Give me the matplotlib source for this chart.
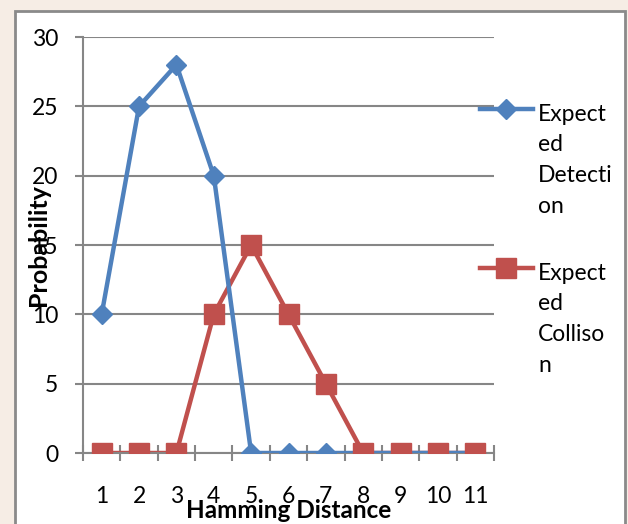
import numpy as np
import matplotlib
matplotlib.use("Agg")
import matplotlib.pyplot as plt
from matplotlib.patches import Rectangle
from matplotlib.lines import Line2D

plt.rcParams["font.family"] = ["Lato", "DejaVu Sans"]

# data
hamming = [1, 2, 3, 4, 5, 6, 7, 8, 9, 10, 11]
detection = [10, 25, 28, 20, 0, 0, 0, 0, 0, 0, 0]
collision = [0, 0, 0, 10, 15, 10, 5, 0, 0, 0, 0]
series_names = ["Expect\ned\nDetecti\non", "Expect\ned\nColliso\nn"]

BLUE = "#4F81BD"
RED = "#C0504D"
GRID = "#868686"

W, H = 628, 524
fig = plt.figure(figsize=(W / 100, H / 100), dpi=100, facecolor="#f6ede5")

# white chart area with grey frame
fig.add_artist(Rectangle((15 / W, -0.05), 610 / W, 1 - 11 / H + 0.05,
                         transform=fig.transFigure, facecolor="white",
                         edgecolor="#8a8a8a", linewidth=2.0, zorder=0))

ax = fig.add_axes([83 / W, 71 / H, 411 / W, 416 / H])
ax.set_facecolor("none")

# lines first (blue sits above red), then markers (red on top)
ax.plot(hamming, collision, color=RED, lw=3.2, zorder=2, solid_capstyle="round")
ax.plot(hamming, detection, color=BLUE, lw=3.2, zorder=3, solid_capstyle="round")
ax.plot(hamming, detection, ls="none", marker="D", ms=10, color=BLUE, zorder=4)
ax.plot(hamming, collision, ls="none", marker="s", ms=14, color=RED, zorder=5)

ax.set_xlim(0.5, 11.5)
ax.set_ylim(0, 30)
ax.set_yticks(np.arange(0, 31, 5))
ax.set_xticks(hamming)
ax.set_xticks(np.arange(0.5, 12, 1), minor=True)

ax.grid(axis="y", color=GRID, lw=1.5, zorder=1)
ax.set_axisbelow(True)
for side in ["top", "right"]:
    ax.spines[side].set_visible(False)
for side in ["left", "bottom"]:
    ax.spines[side].set_color(GRID)
    ax.spines[side].set_linewidth(1.5)

ax.tick_params(axis="y", length=6, width=1.5, color=GRID, pad=12,
               labelsize=16.5)
ax.tick_params(axis="x", which="major", length=0, pad=24, labelsize=16.5)
ax.tick_params(axis="x", which="minor", length=12, width=1.5, color=GRID,
               direction="inout")

ax.set_ylabel("Probability", fontsize=18, fontweight="bold", labelpad=-13)
ax.set_xlabel("Hamming Distance", fontsize=17.5, fontweight="bold", labelpad=-6)

# manual legend, handle aligned with first line of label
lines = ax.get_lines()
handles = [(lines[2], lines[1]), (lines[3], lines[0])]
legend_y = [109, 268]
for (mk, ln), label, y in zip(handles, series_names, legend_y):
    fy = 1 - y / H
    fig.add_artist(Line2D([480 / W, 533 / W], [fy, fy], color=ln.get_color(),
                          lw=3.2, transform=fig.transFigure))
    fig.add_artist(Line2D([506 / W], [fy], marker=mk.get_marker(),
                          ms=mk.get_markersize(), color=mk.get_color(),
                          ls="none", transform=fig.transFigure))
    # baseline anchors the last line; first baseline sits 7px below handle
    fig.text(538 / W, 1 - (y + 7 + 97) / H, label, fontsize=16.5,
             va="baseline", ha="left", linespacing=1.575)

fig.savefig("out.png", dpi=100, facecolor=fig.get_facecolor())
